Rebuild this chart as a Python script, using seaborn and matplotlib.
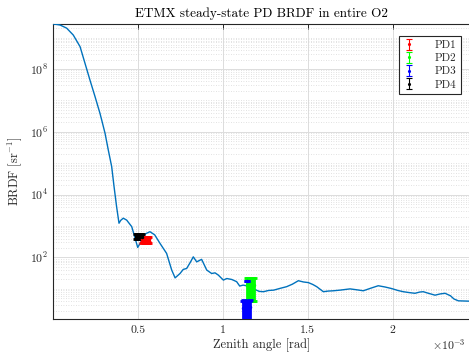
import numpy as np
import pandas as pd
import matplotlib
matplotlib.use("Agg")
import matplotlib.pyplot as plt
import matplotlib.ticker as mticker
import seaborn as sns

# ---------------- data (angles in mrad, BRDF in sr^-1) ----------------
curve_angle_mrad = [0.0, 0.02, 0.043, 0.082, 0.121, 0.161, 0.19, 0.219, 0.249, 0.278,
                    0.288, 0.308, 0.327, 0.347, 0.361, 0.376, 0.39, 0.40, 0.415, 0.435,
                    0.465, 0.48, 0.5, 0.52, 0.545, 0.572, 0.6, 0.631, 0.67, 0.70,
                    0.72, 0.749, 0.768, 0.788, 0.81, 0.827, 0.847, 0.876, 0.906, 0.935,
                    0.955, 0.974, 1.004, 1.024, 1.053, 1.082, 1.10, 1.12, 1.14, 1.16,
                    1.19, 1.215, 1.24, 1.27, 1.30, 1.34, 1.376, 1.41, 1.445, 1.475,
                    1.504, 1.53, 1.553, 1.575, 1.592, 1.62, 1.651, 1.69, 1.749, 1.79,
                    1.827, 1.87, 1.915, 1.955, 1.994, 2.03, 2.062, 2.10, 2.131, 2.16,
                    2.18, 2.21, 2.249, 2.28, 2.308, 2.34, 2.36, 2.386, 2.445, 2.47]
curve_log_brdf = [9.43, 9.42, 9.40, 9.30, 9.08, 8.71, 8.18, 7.65, 7.12, 6.59,
                  6.38, 5.95, 5.42, 4.89, 4.25, 3.61, 3.09, 3.18, 3.25, 3.19,
                  2.98, 2.7, 2.32, 2.5, 2.75, 2.82, 2.72, 2.45, 2.13, 1.60,
                  1.35, 1.49, 1.62, 1.65, 1.85, 2.02, 1.86, 1.94, 1.60, 1.49,
                  1.51, 1.44, 1.28, 1.33, 1.30, 1.23, 1.09, 1.12, 1.10, 1.05,
                  0.98, 0.92, 0.91, 0.95, 0.96, 1.02, 1.07, 1.15, 1.26, 1.22,
                  1.2, 1.14, 1.07, 0.98, 0.91, 0.93, 0.94, 0.96, 1.00, 0.97,
                  0.94, 1.02, 1.1, 1.06, 1.01, 0.95, 0.91, 0.88, 0.86, 0.90,
                  0.91, 0.86, 0.8, 0.84, 0.86, 0.78, 0.68, 0.62, 0.61, 0.61]

pd_names = ["PD1", "PD2", "PD3", "PD4"]
pd_colors = ["#ff0000", "#00ff00", "#0000ff", "#000000"]

pd1_x = [0.528, 0.533, 0.538, 0.543, 0.548, 0.553, 0.558, 0.563, 0.567]
pd1_y = [376, 380, 372, 378, 370, 382, 375, 379, 374]
pd1_err = [80, 75, 78, 80, 76, 74, 80, 77, 79]

pd2_x = [1.142, 1.147, 1.152, 1.157, 1.162, 1.167, 1.172, 1.177, 1.182]
pd2_y = [13.0, 13.5, 12.5, 13.0, 13.2, 12.8, 13.0, 13.4, 12.9]
pd2_err = [9.0, 9.2, 8.5, 9.0, 9.1, 8.8, 9.0, 9.3, 8.9]

pd3_x = [1.118, 1.124, 1.130, 1.136, 1.142, 1.148, 1.154, 1.160, 1.140]
pd3_y = [2.5, 2.6, 2.4, 2.5, 2.55, 2.45, 2.5, 2.6, 18.0]
pd3_err = [1.6, 1.7, 1.5, 1.6, 1.65, 1.55, 1.6, 1.7, 0.3]

pd4_x = [0.490, 0.495, 0.500, 0.505, 0.510, 0.515, 0.520, 0.525]
pd4_y = [465, 470, 462, 468, 460, 472, 466, 464]
pd4_err = [80, 78, 82, 80, 84, 76, 80, 81]

x_tick_values_mrad = [0.5, 1.0, 1.5, 2.0]
y_tick_values = [1e2, 1e4, 1e6, 1e8]

# ---------------- style ----------------
sns.set_style("white")
plt.rcParams["font.family"] = ["cmr10", "DejaVu Serif"]
plt.rcParams["mathtext.fontset"] = "cm"
plt.rcParams["axes.unicode_minus"] = False
plt.rcParams["axes.formatter.use_mathtext"] = True

AX_COLOR = "#262626"

fig = plt.figure(figsize=(4.69, 3.57), dpi=100)
L, R, T, B = 52.7, 471.0, 24.0, 319.0
ax = fig.add_axes([L / 469, (357 - B) / 357, (R - L) / 469, (B - T) / 357])

df = pd.DataFrame({
    "angle": np.array(curve_angle_mrad) * 1e-3,
    "brdf": 10.0 ** np.array(curve_log_brdf),
})
sns.lineplot(data=df, x="angle", y="brdf", ax=ax, color="#0072BD", lw=1.0,
             sort=False, estimator=None, zorder=3)

pd_data = [(pd1_x, pd1_y, pd1_err), (pd2_x, pd2_y, pd2_err),
           (pd3_x, pd3_y, pd3_err), (pd4_x, pd4_y, pd4_err)]
handles = []
for name, col, (xs, ys, es) in zip(pd_names, pd_colors, pd_data):
    ax.errorbar(np.array(xs) * 1e-3, ys, yerr=es, fmt=".", color=col, ms=3,
                elinewidth=2.0, capsize=2.5, capthick=2.0, zorder=4)
    # thin proxy for the legend entry
    h = ax.errorbar([np.nan], [np.nan], yerr=[1.0], fmt=".", color=col, ms=2.5,
                    elinewidth=0.8, capsize=2.5, capthick=0.8, label=name)
    handles.append(h)

ax.set_yscale("log")
ax.set_xlim(0, (R - L) / 170.0 * 1e-3)
ax.set_ylim(1.1, 2.7e9)

ax.yaxis.set_major_locator(mticker.FixedLocator(y_tick_values))
ax.yaxis.set_minor_locator(mticker.LogLocator(base=10, subs=np.arange(1, 10), numticks=30))
ax.yaxis.set_minor_formatter(mticker.NullFormatter())
ax.yaxis.set_major_formatter(mticker.LogFormatterMathtext())
ax.xaxis.set_major_locator(mticker.FixedLocator(np.array(x_tick_values_mrad) * 1e-3))
ax.xaxis.set_major_formatter(mticker.FuncFormatter(lambda v, p: f"{v * 1e3:g}"))

ax.grid(True, which="major", color="#dcdcdc", lw=0.7, ls="-", zorder=0)
ax.grid(True, which="minor", axis="y", color="#d8d8d8", lw=0.6, ls=(0, (1, 2)), zorder=0)
ax.set_axisbelow(True)

for s in ax.spines.values():
    s.set_color(AX_COLOR)
    s.set_linewidth(0.8)
ax.tick_params(which="both", direction="in", top=True, right=False,
               colors=AX_COLOR, labelsize=8.5, labelcolor=AX_COLOR)
ax.tick_params(which="major", length=3.5, width=0.7)
ax.tick_params(which="minor", length=2, width=0.6)
ax.tick_params(axis="x", pad=5)

ax.set_xlabel("Zenith angle [rad]", fontsize=9, color=AX_COLOR, labelpad=2)
ax.set_ylabel(r"BRDF [sr$^{-1}$]", fontsize=9, color=AX_COLOR, labelpad=4)
ax.set_title("ETMX steady-state PD BRDF in entire O2", fontsize=9.5, color="black", pad=5)
# axis exponent label
fig.text(466 / 469, 1 - 337 / 357, r"$\times10^{-3}$", ha="right", va="top",
         fontsize=8.5, color=AX_COLOR)

leg = ax.legend(handles=handles, labels=pd_names, loc="upper right",
                bbox_to_anchor=(461 / 469, 1 - 36 / 357),
                bbox_transform=fig.transFigure, borderaxespad=0, fontsize=8,
                frameon=True, fancybox=False, edgecolor=AX_COLOR, framealpha=1,
                handlelength=1.0, handletextpad=1.8, labelspacing=0.3,
                borderpad=0.4)
leg.get_frame().set_linewidth(0.8)

fig.savefig("out.png", dpi=100)
